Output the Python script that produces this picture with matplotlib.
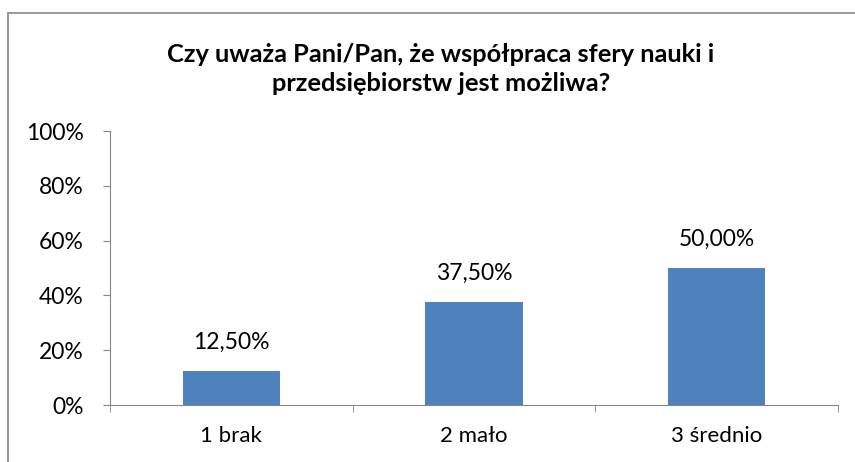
import numpy as np
import matplotlib
matplotlib.use('Agg')
import matplotlib.pyplot as plt
from matplotlib.patches import Rectangle
from matplotlib.ticker import PercentFormatter

# Dane
kategorie = ['1 brak', '2 mało', '3 średnio']
odsetki = [12.5, 37.5, 50.0]
etykiety = ['12,50%', '37,50%', '50,00%']
tytul = 'Czy uważa Pani/Pan, że współpraca sfery nauki i\nprzedsiębiorstw jest możliwa?'

plt.rcParams['font.family'] = ['Lato', 'DejaVu Sans']

fig = plt.figure(figsize=(8.55, 4.62), dpi=100)
ax = fig.add_axes([110 / 855, 1 - 405 / 462, 728 / 855, 274 / 462])

# ramka wykresu (ucięta z prawej i z dołu)
fig.patches.append(Rectangle((8 / 855, -0.1), 1.2, 1 - 13 / 462 + 0.1,
                             transform=fig.transFigure, fill=False,
                             edgecolor='#868686', linewidth=1.2))

x = np.arange(len(kategorie))
ax.bar(x, odsetki, width=0.4, color='#4F81BD', zorder=2)
for xi, v, txt in zip(x, odsetki, etykiety):
    ax.text(xi, v + 10.5, txt, ha='center', va='center', fontsize=16.5)

ax.set_xlim(-0.5, len(kategorie) - 0.5)
ax.set_ylim(0, 100)
ax.set_yticks(np.arange(0, 101, 20))
ax.yaxis.set_major_formatter(PercentFormatter(decimals=0))
ax.set_xticks(x)
ax.set_xticklabels(kategorie)
ax.set_xticks(np.arange(-0.5, len(kategorie)), minor=True)
ax.tick_params(axis='x', which='major', length=0, pad=15, labelsize=16)
ax.tick_params(axis='x', which='minor', length=5, color='#868686')
ax.tick_params(axis='y', length=5, color='#868686', labelsize=16.5, pad=14)

for s in ['top', 'right']:
    ax.spines[s].set_visible(False)
for s in ['left', 'bottom']:
    ax.spines[s].set_color('#868686')

fig.text(441 / 855, 1 - 69 / 462, tytul, ha='center', va='center',
         fontsize=18.3, fontweight='bold', linespacing=1.3)

fig.savefig('out.png', dpi=100)
